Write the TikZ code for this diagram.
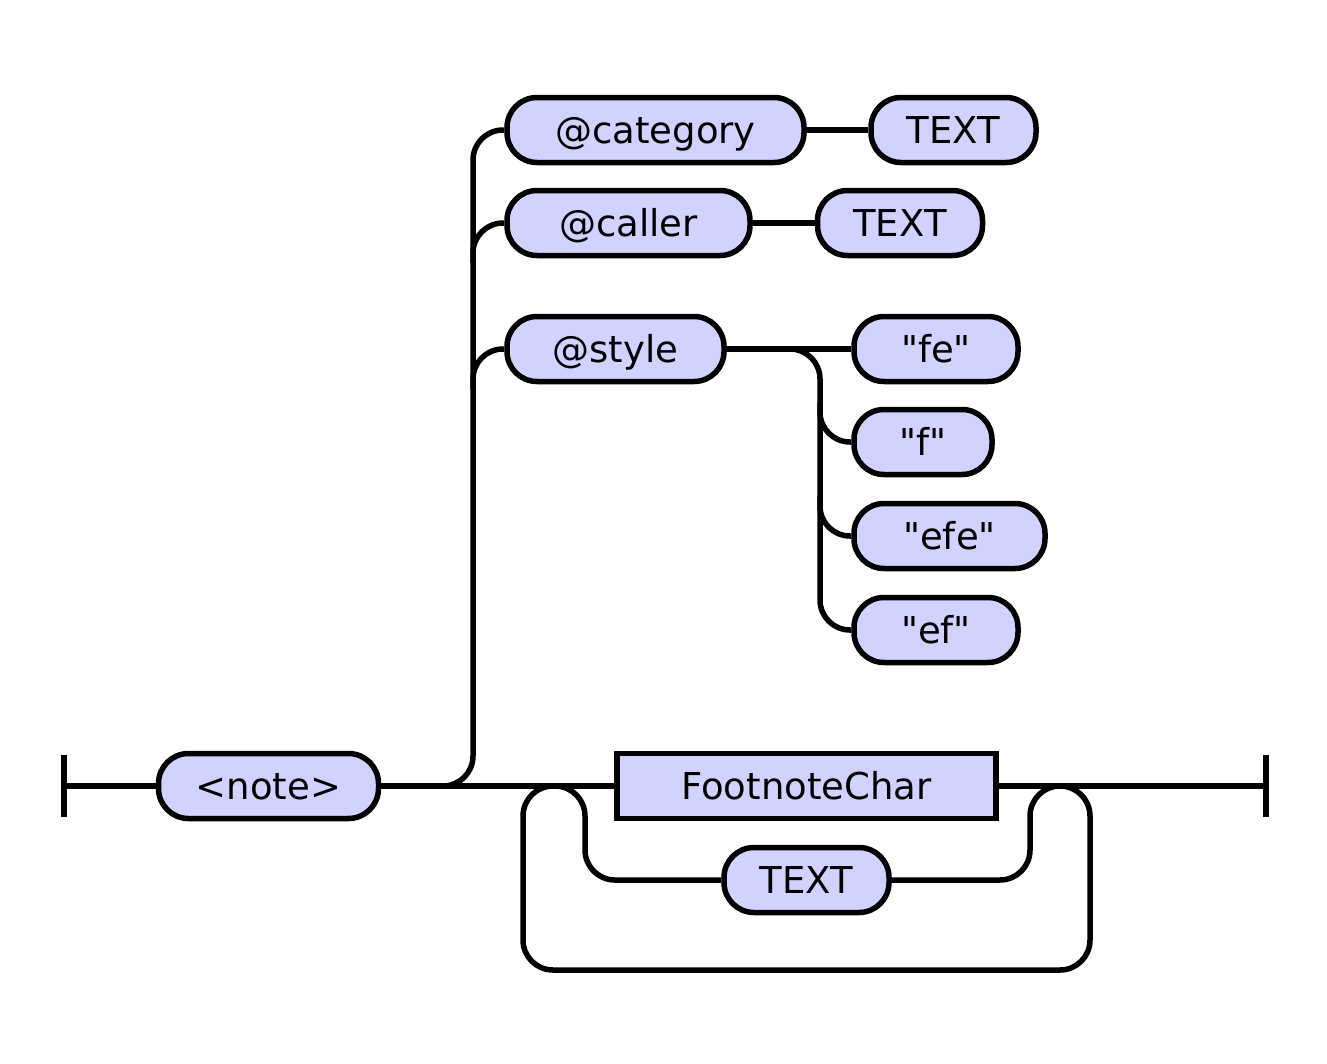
\documentclass[tikz,border=0pt]{standalone}
\usepackage{fontspec}
\newfontfamily\railfont{DejaVu Sans}
\usepackage{xcolor}
\definecolor{boxfill}{RGB}{210,210,255}

\begin{document}
\begin{tikzpicture}[x=1pt,y=-1pt,line width=5.5pt,
  every node/.style={font=\railfont\fontsize{37}{44}\selectfont,text height=35pt,text depth=8pt,inner sep=0pt,minimum height=65pt},
  term/.style={draw,fill=boxfill,rounded corners=30pt},
  nonterm/.style={draw,fill=boxfill},
  track/.style={rounded corners=30pt}]
\useasboundingbox (0,0) rectangle (1327,1063);
\node[term,minimum width=220pt](note)at(268.5,786){<note>};
\node[term,minimum width=297pt](category)at(655.5,130){@category};
\node[term,minimum width=165pt](textA)at(953.5,130){TEXT};
\node[term,minimum width=243pt](caller)at(628.5,223){@caller};
\node[term,minimum width=165pt](textB)at(900,223){TEXT};
\node[term,minimum width=217pt](style)at(615.5,349){@style};
\node[term,minimum width=164pt](fe)at(936,349){"fe"};
\node[term,minimum width=138pt](f)at(923,442){"f"};
\node[term,minimum width=191pt](efe)at(949.5,536){"efe"};
\node[term,minimum width=164pt](ef)at(936,630){"ef"};
\node[nonterm,minimum width=379pt](fchar)at(806.5,786){FootnoteChar};
\node[term,minimum width=165pt](textC)at(806.5,880){TEXT};
\coordinate(start)at(64,786);
\coordinate(stop)at(1266,786);
\draw(64,755)--(64,817);
\draw(1266,755)--(1266,817);
\draw(start)--(note);
\draw(note)--(fchar);
\draw(fchar)--(stop);
\draw[track](413,786)--(473,786)--(473,130)--(category);
\draw[track](473,263)--(473,223)--(caller);
\draw[track](473,389)--(473,349)--(style);
\draw(category)--(textA);
\draw(caller)--(textB);
\draw(style)--(fe);
\draw[track](760,349)--(820,349)--(820,630)--(ef);
\draw[track](820,402)--(820,442)--(f);
\draw[track](820,496)--(820,536)--(efe);
\draw[track](553,786)--(585,786)--(585,880)--(textC);
\draw[track](textC)--(1030,880)--(1030,786)--(1060,786);
\draw[track](1030,786)--(1090,786)--(1090,970)--(523,970)--(523,786)--(585,786);
\end{tikzpicture}
\end{document}
